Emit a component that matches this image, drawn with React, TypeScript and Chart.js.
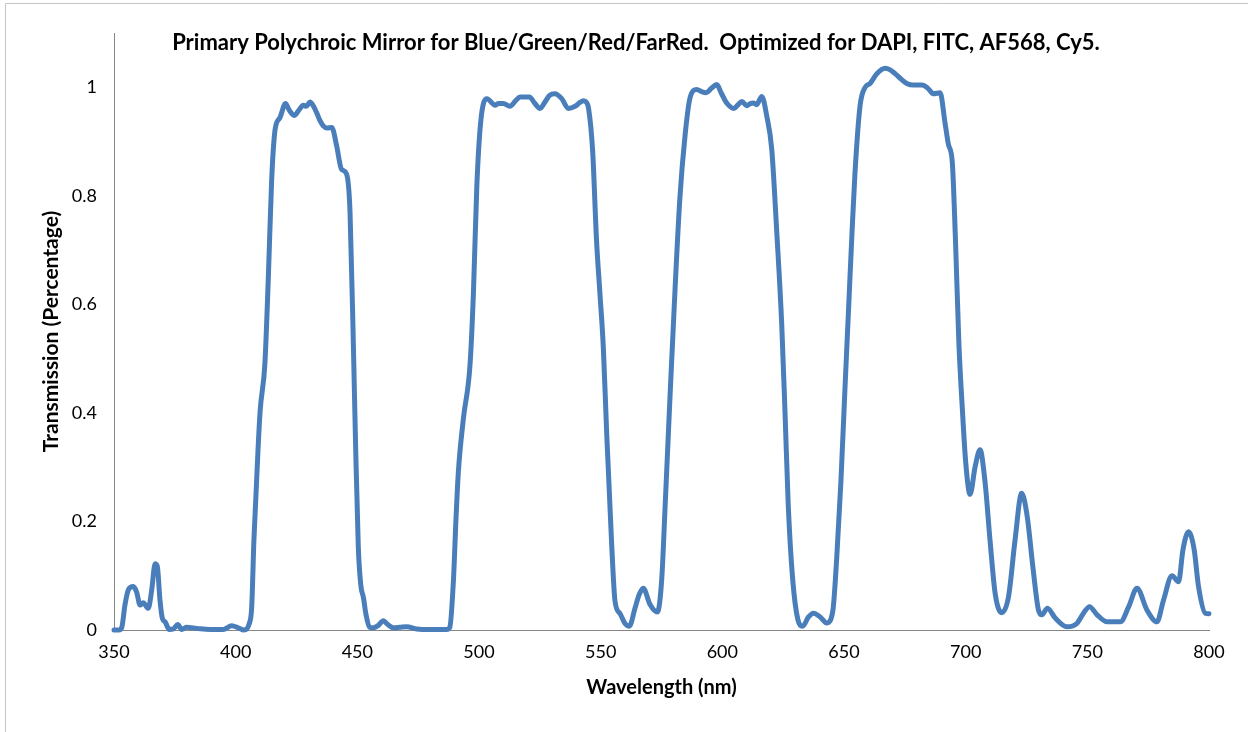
import { useEffect, useRef } from 'react';
import { Chart, registerables } from 'chart.js';

Chart.register(...registerables);

const TITLE = 'Primary Polychroic Mirror for Blue/Green/Red/FarRed.  Optimized for DAPI, FITC, AF568, Cy5.';
const X_TITLE = 'Wavelength (nm)';
const Y_TITLE = 'Transmission (Percentage)';

const wavelengths = [
  350, 352, 353.2, 354.5, 355.9, 357.9, 359.3, 360.7, 362, 364.1, 365.5, 366.9, 367.8, 368.9, 369.9, 371,
  372.7, 374.4, 376.2, 377.8, 379.9, 384, 389.5, 394.9, 398.4, 401.1, 403.4, 405.6, 406.6, 407.5, 408,
  410, 412, 413.4, 414.8, 416.2, 418.2, 420.5, 422, 424, 426, 427.8, 429, 430.6, 432, 433.3, 434.5, 436,
  437.5, 439.5, 441.5, 443.5, 445.6, 447, 448.4, 449.3, 450.4, 451.5, 452.5, 453.5, 455, 456.5, 458.5,
  460.7, 462.5, 464.8, 467.5, 470.3, 474.4, 480, 486.7, 488, 489.5, 490.5, 491.5, 493.6, 496.3, 497.7,
  499.1, 500.7, 503.2, 506.6, 508, 510, 512.7, 515, 516.9, 520.7, 523, 525.1, 527, 529, 531.2, 534,
  536.7, 539.5, 541.5, 542.9, 544.2, 545, 546.7, 548.3, 549.7, 551.1, 552.5, 554.5, 555.9, 558, 560,
  561.8, 564.1, 565.8, 567.5, 570.3, 573.3, 575.1, 576.5, 578.5, 580.6, 582.6, 584.7, 586.7, 589.5,
  591.5, 593.3, 595.5, 597.7, 599.5, 601.8, 604.8, 606.5, 608, 610, 611.5, 612.7, 614.1, 616.2, 618.3,
  620.3, 622.4, 624.4, 625.8, 627.1, 628.9, 631, 633, 635.4, 637.4, 640.2, 642.9, 645.4, 647, 648.7,
  650.4, 651.8, 653.2, 654.5, 656.6, 658.7, 660.7, 663.5, 666.9, 669, 671, 673.5, 675.8, 678.5, 682,
  684.5, 686.7, 689.5, 691.5, 692.9, 694.5, 695.8, 697.2, 698.6, 700, 701.8, 703.9, 705.9, 708, 710,
  712.1, 714.8, 717.6, 720.3, 723, 725.3, 727.6, 729.9, 731.3, 733.6, 736.8, 741.6, 745.7, 748.4, 750.9,
  754, 758.1, 763.6, 767, 770.4, 774.5, 778.6, 781.3, 784.8, 787.5, 789.3, 791.6, 793.9, 795.7, 798.5, 800,
];

const transmission = [
  0, 0, 0.005, 0.046, 0.074, 0.08, 0.07, 0.046, 0.05, 0.04, 0.074, 0.122, 0.117, 0.055, 0.021, 0.015,
  0.001, 0.002, 0.01, 0.001, 0.005, 0.003, 0.001, 0.001, 0.008, 0.004, 0, 0.012, 0.043, 0.166, 0.215,
  0.4, 0.49, 0.646, 0.83, 0.922, 0.944, 0.97, 0.958, 0.948, 0.958, 0.967, 0.965, 0.973, 0.965, 0.953, 0.94, 0.929,
  0.925, 0.926, 0.892, 0.849, 0.84, 0.77, 0.52, 0.338, 0.153, 0.08, 0.06, 0.03, 0.005, 0.004, 0.008,
  0.017, 0.01, 0.004, 0.005, 0.006, 0.002, 0.001, 0.001, 0.005, 0.092, 0.2, 0.29, 0.39, 0.488, 0.62,
  0.817, 0.936, 0.979, 0.967, 0.97, 0.97, 0.965, 0.975, 0.982, 0.982, 0.97, 0.961, 0.972, 0.985, 0.988, 0.979,
  0.961, 0.965, 0.972, 0.975, 0.972, 0.962, 0.883, 0.718, 0.62, 0.52, 0.36, 0.16, 0.053, 0.03, 0.012,
  0.007, 0.04, 0.065, 0.077, 0.047, 0.033, 0.094, 0.229, 0.43, 0.631, 0.799, 0.912, 0.98, 0.996,
  0.992, 0.99, 0.998, 1.005, 0.99, 0.971, 0.961, 0.968, 0.974, 0.966, 0.97, 0.971, 0.968, 0.983, 0.946,
  0.886, 0.731, 0.564, 0.396, 0.229, 0.094, 0.02, 0.007, 0.024, 0.031, 0.024, 0.013, 0.035, 0.132, 0.271,
  0.445, 0.584, 0.723, 0.841, 0.966, 1.0, 1.007, 1.025, 1.035, 1.032, 1.025, 1.015, 1.007, 1.004, 1.004,
  0.998, 0.988, 0.99, 0.935, 0.895, 0.862, 0.72, 0.53, 0.41, 0.31, 0.25, 0.301, 0.332, 0.271, 0.166,
  0.068, 0.032, 0.061, 0.166, 0.252, 0.209, 0.117, 0.037, 0.028, 0.04, 0.022, 0.006, 0.012, 0.031, 0.043,
  0.028, 0.015, 0.015, 0.043, 0.077, 0.037, 0.015, 0.055, 0.1, 0.089, 0.148, 0.181, 0.148, 0.08, 0.031, 0.03,
];

const X_MIN = 350;
const X_MAX = 800;
const X_STEP = 50;
const Y_MIN = 0;
const Y_MAX = 1.1;
const Y_STEP = 0.2;

const FONT = 'Lato, "Open Sans", sans-serif';

export default function App() {
  const ref = useRef<HTMLCanvasElement>(null);

  useEffect(() => {
    const canvas = ref.current;
    if (!canvas) return;

    const framePlugin = {
      id: 'frame',
      beforeDraw(chart: any) {
        const ctx = chart.ctx;
        ctx.save();
        ctx.fillStyle = '#ffffff';
        ctx.fillRect(0, 0, chart.width, chart.height);
        ctx.strokeStyle = '#c4c4c4';
        ctx.lineWidth = 1;
        ctx.beginPath();
        ctx.moveTo(5.5, chart.height);
        ctx.lineTo(5.5, 3.5);
        ctx.lineTo(chart.width, 3.5);
        ctx.stroke();
        ctx.restore();
      },
    };

    const titlePlugin = {
      id: 'topTitle',
      afterDraw(chart: any) {
        const ctx = chart.ctx;
        ctx.save();
        ctx.font = `bold 22px ${FONT}`;
        ctx.fillStyle = '#000000';
        ctx.textAlign = 'center';
        ctx.textBaseline = 'middle';
        ctx.fillText(TITLE, 636, 43);
        ctx.restore();
      },
    };

    const chart = new Chart(canvas, {
      type: 'line',
      data: {
        datasets: [
          {
            data: wavelengths.map((x, i) => ({ x, y: transmission[i] })),
            borderColor: '#4A7EBB',
            borderWidth: 5,
            pointRadius: 0,
            fill: false,
            cubicInterpolationMode: 'monotone',
            borderCapStyle: 'round',
            borderJoinStyle: 'round',
            clip: false as any,
          },
        ],
      },
      options: {
        responsive: false,
        animation: false,
        layout: { padding: { left: 0, top: 33, right: 39, bottom: 0 } },
        plugins: {
          legend: { display: false },
          tooltip: { enabled: false },
          title: { display: false },
        },
        scales: {
          x: {
            type: 'linear',
            min: X_MIN,
            max: X_MAX,
            grid: { display: false, drawTicks: false },
            border: { display: true, color: '#868686', width: 1 },
            ticks: {
              stepSize: X_STEP,
              autoSkip: false,
              maxRotation: 0,
              padding: 11,
              color: '#000000',
              font: { family: FONT, size: 18 },
            },
            title: {
              display: true,
              text: X_TITLE,
              color: '#000000',
              font: { family: FONT, size: 20, weight: 'bold' },
              padding: { top: 0, bottom: 32 },
            },
            afterFit(scale: any) {
              scale.height = 102;
            },
          },
          y: {
            type: 'linear',
            min: Y_MIN,
            max: Y_MAX,
            grid: { display: false, drawTicks: false },
            border: { display: true, color: '#868686', width: 1 },
            ticks: {
              stepSize: Y_STEP,
              padding: 17,
              color: '#000000',
              font: { family: FONT, size: 18 },
              callback(value: any) {
                const v = Number(value);
                const k = v / Y_STEP;
                if (Math.abs(k - Math.round(k)) > 1e-6) return '';
                return String(Math.round(v * 10) / 10);
              },
            },
            title: {
              display: true,
              text: Y_TITLE,
              color: '#000000',
              font: { family: FONT, size: 21, weight: 'bold' },
              padding: { top: 39, bottom: 0 },
            },
            afterFit(scale: any) {
              scale.width = 114;
            },
          },
        },
      },
      plugins: [framePlugin, titlePlugin],
    });

    return () => chart.destroy();
  }, []);

  return (
    <div style={{ position: 'fixed', left: 0, top: 0, width: 1248, height: 732, background: '#fff' }}>
      <canvas ref={ref} width={1248} height={732} style={{ display: 'block', width: 1248, height: 732 }} />
    </div>
  );
}
